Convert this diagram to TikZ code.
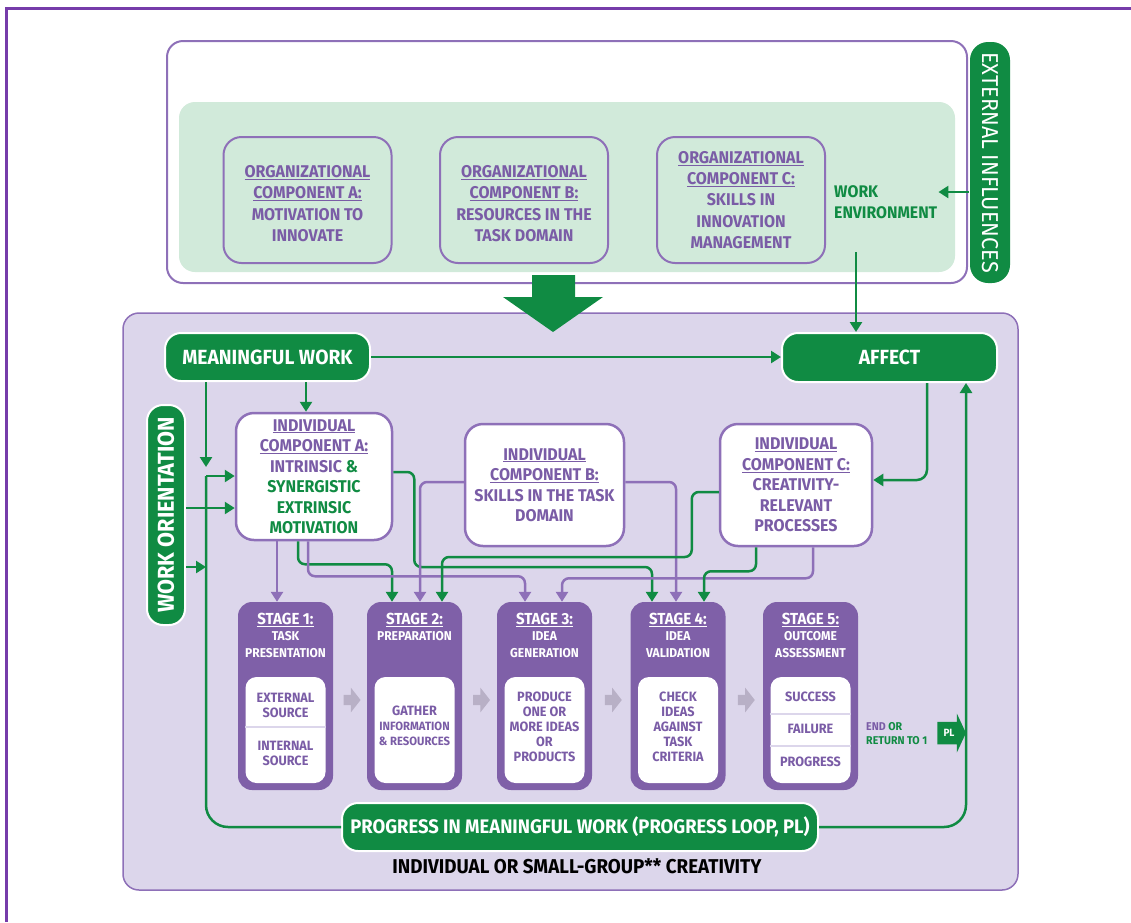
\documentclass[tikz,border=0pt]{standalone}
\usepackage{fontspec}
\setmainfont{Fira Sans}[FakeStretch=0.94]
\usetikzlibrary{positioning,shapes.arrows,calc,arrows.meta}
\definecolor{grn}{RGB}{16,139,67}
\definecolor{pur}{RGB}{127,96,168}
\definecolor{lpur}{RGB}{142,112,184}
\definecolor{txtp}{RGB}{122,92,166}
\definecolor{lav}{RGB}{220,214,235}
\definecolor{mint}{RGB}{209,234,218}
\definecolor{frm}{RGB}{118,60,170}
\definecolor{gry}{RGB}{184,176,198}
\begin{document}
\begin{tikzpicture}[x=1pt,y=-1pt,
  >={Triangle[length=10pt,width=12pt]},
  orgbox/.style={draw=lpur,line width=2pt,rounded corners=18,minimum width=168,minimum height=126,align=center,text=txtp,font=\bfseries\fontsize{17}{21.3}\selectfont},
  indbox/.style={draw=lpur,line width=2.5pt,fill=white,rounded corners=18,align=center,text=txtp,font=\bfseries\fontsize{17}{20.5}\selectfont},
  gbox/.style={draw=white,line width=2pt,fill=grn,rounded corners=16,text=white},
  stage/.style={fill=pur,rounded corners=14,minimum width=95,minimum height=188},
  stitle/.style={text=white,align=center,inner sep=0,font=\bfseries\fontsize{12.8}{16.5}\selectfont},
  inbox/.style={fill=white,rounded corners=11,minimum width=80,minimum height=106},
  intext/.style={text=txtp,align=center,inner sep=0,font=\bfseries\fontsize{13.5}{15}\selectfont},
  divline/.style={draw=lav,line width=1.2pt},
  grayarr/.style={single arrow,fill=gry,inner sep=5,minimum height=17,minimum width=18,single arrow tip angle=104},
  gline/.style={draw=grn,line width=2.5pt},
  pline/.style={draw=lpur,line width=2.5pt},
  garr/.style={gline,->,rounded corners=7},
  parr/.style={pline,->,rounded corners=7}]
\useasboundingbox (0,0) rectangle (1131,922);
\draw[frm,line width=3pt] (6,922) -- (6,8) -- (1131,8);

% work environment
\draw[lpur,line width=2pt,fill=white,rounded corners=16] (167,41) rectangle (967,283);
\fill[mint,rounded corners=16] (179,102) rectangle (955,272);
\node[orgbox] (orgA) at (307.5,200) {\rule{0pt}{19pt}\underline{ORGANIZATIONAL}\\\underline{COMPONENT A:}\\MOTIVATION TO\\INNOVATE};
\node[orgbox] (orgB) at (524,200) {\rule{0pt}{19pt}\underline{ORGANIZATIONAL}\\\underline{COMPONENT B:}\\RESOURCES IN THE\\TASK DOMAIN};
\node[orgbox] (orgC) at (741,200) {\underline{ORGANIZATIONAL}\\\underline{COMPONENT C:}\\SKILLS IN\\INNOVATION\\MANAGEMENT};
\node[anchor=west,align=left,inner sep=1,text=grn,font=\bfseries\fontsize{16.8}{21}\selectfont] (wenv) at (833,202.5) {WORK\\ENVIRONMENT};
\node[gbox,draw=none,rotate=-90,minimum width=241,minimum height=40,rounded corners=18,font=\fontsize{23}{23}\selectfont] (ext) at (990,162.5) {EXTERNAL INFLUENCES};

% individual part
\draw[lpur,line width=1.5pt,fill=lav,rounded corners=16] (123,313) rectangle (1018,890);
\fill[grn] (532,275) -- (575,275) -- (575,297) -- (603,297) -- (553,332) -- (503,297) -- (532,297) -- cycle;

\node[gbox,minimum width=205,minimum height=48,font=\bfseries\fontsize{20.5}{20.5}\selectfont] (mw) at (267.5,357) {MEANINGFUL WORK};
\node[gbox,minimum width=215,minimum height=49,font=\bfseries\fontsize{20.5}{20.5}\selectfont] (affect) at (889.5,357.5) {AFFECT};
\node[gbox,rotate=90,minimum width=220,minimum height=38,font=\bfseries\fontsize{23}{23}\selectfont] (wo) at (166,515) {WORK ORIENTATION};
\node[gbox,minimum width=476,minimum height=48,font=\bfseries\fontsize{19.6}{19.6}\selectfont] (prog) at (580,827) {PROGRESS IN MEANINGFUL WORK (PROGRESS LOOP, PL)};
\node[font=\bfseries\fontsize{20}{20}\selectfont] (cap) at (577,866) {INDIVIDUAL OR SMALL-GROUP** CREATIVITY};

\node[indbox,minimum width=156,minimum height=127] (indA) at (314,476.5) {\underline{INDIVIDUAL}\\\underline{COMPONENT A:}\\INTRINSIC \textcolor{grn}{\&}\\\textcolor{grn}{SYNERGISTIC}\\\textcolor{grn}{EXTRINSIC}\\\textcolor{grn}{MOTIVATION}};
\node[indbox,minimum width=159,minimum height=122] (indB) at (544.5,485) {\underline{INDIVIDUAL}\\\underline{COMPONENT B:}\\SKILLS IN THE TASK\\DOMAIN};
\node[indbox,minimum width=152,minimum height=122] (indC) at (796,485) {\underline{INDIVIDUAL}\\\underline{COMPONENT C:}\\CREATIVITY-\\RELEVANT\\PROCESSES};

% stages
\node[stage] (s1) at (285.5,696) {};
\node[stage] (s2) at (414.5,696) {};
\node[stage] (s3) at (544.5,696) {};
\node[stage] (s4) at (678,696) {};
\node[stage] (s5) at (810.5,696) {};
\node[stitle,below=11pt of s1.north] {{\fontsize{16}{16}\selectfont\underline{STAGE 1:}}\\TASK\\PRESENTATION};
\node[stitle,below=11pt of s2.north] {{\fontsize{16}{16}\selectfont\underline{STAGE 2:}}\\PREPARATION\\\strut};
\node[stitle,below=11pt of s3.north] {{\fontsize{16}{16}\selectfont\underline{STAGE 3:}}\\IDEA\\GENERATION};
\node[stitle,below=11pt of s4.north] {{\fontsize{16}{16}\selectfont\underline{STAGE 4:}}\\IDEA\\VALIDATION};
\node[stitle,below=11pt of s5.north] {{\fontsize{16}{16}\selectfont\underline{STAGE 5:}}\\OUTCOME\\ASSESSMENT};
\foreach \s in {1,...,5}
  \node[inbox,above=7pt of s\s.south] (s\s in) {};
\node[intext] at ([yshift=25]s1in.center) {EXTERNAL\\SOURCE};
\draw[divline] ([yshift=3]s1in.west) -- ([yshift=3]s1in.east);
\node[intext] at ([yshift=-23]s1in.center) {INTERNAL\\SOURCE};
\node[intext] at ([yshift=4]s2in.center) {GATHER\\{\fontsize{12}{14}\selectfont INFORMATION}\\{\fontsize{12}{14}\selectfont\& RESOURCES}};
\node[intext] at ([yshift=3]s3in.center) {PRODUCE\\ONE OR\\MORE IDEAS\\OR\\PRODUCTS};
\node[intext] at ([yshift=3]s4in.center) {CHECK\\IDEAS\\AGAINST\\TASK\\CRITERIA};
\node[intext] at ([yshift=33]s5in.center) {SUCCESS};
\draw[divline] ([yshift=16]s5in.west) -- ([yshift=16]s5in.east);
\node[intext] at ([yshift=1]s5in.center) {FAILURE};
\draw[divline] ([yshift=-16]s5in.west) -- ([yshift=-16]s5in.east);
\node[intext] at ([yshift=-32]s5in.center) {PROGRESS};
\foreach \a/\b in {1/2,2/3,3/4,4/5}
  \node[grayarr] (g\a) at ($(s\a.east)!.5!(s\b.west)+(0,4)$) {};
\node[anchor=west,align=left,inner sep=0,text=grn,font=\bfseries\fontsize{11.3}{14}\selectfont] (endtxt) at (866,734) {\textcolor{txtp}{END} OR\\RETURN TO 1};
\node[single arrow,fill=grn,text=white,font=\bfseries\fontsize{10.5}{10.5}\selectfont,text height=7,text depth=0,inner sep=6,minimum height=28,minimum width=39,single arrow tip angle=130] (pl) at (949,733) {PL};

% green links
\draw[garr] (mw.east) -- (mw.east -| affect.west);
\coordinate (m1) at ([xshift=38.5]mw.south);
\draw[garr] (m1) -- (m1 |- indA.north);
\coordinate (lp) at (206,476);
\coordinate (m2) at ([xshift=-61.5]mw.south);
\draw[garr] (m2) -- ([yshift=9]lp);
\draw[gline,rounded corners=22] (prog.west) -| (lp);
\draw[garr] (lp) -- (lp -| indA.west);
\coordinate (w1) at ([yshift=7]wo.south);
\draw[garr] (w1) -- (w1 -| indA.west);
\coordinate (w2) at ([yshift=-52]wo.south);
\draw[garr] (w2) -- (w2 -| lp);
\draw[garr,rounded corners=22] (prog.east) -| ([xshift=76.5]affect.south);
\draw[garr,rounded corners=10] ([xshift=37.5]affect.south) |- ([yshift=5]indC.east);
\coordinate (e1) at ([yshift=-29.5]ext.south);
\draw[garr] (e1) -- (e1 -| wenv.east);
\coordinate (a1) at ([xshift=-33.5]affect.north);
\draw[garr] ($(a1)+(0,-80)$) -- (a1);

% components to stages
\draw[parr] ([xshift=-37]indA.south) -- ([xshift=-8.5]s1.north);
\draw[garr] ([xshift=-16]indA.south) -- ++(0,23) -| ([xshift=-22.5]s2.north);
\draw[parr] ([xshift=-6]indA.south) -- ++(0,35) -| ([xshift=-19.5]s3.north);
\draw[garr] ([yshift=4.5]indA.east) -- ++(21,0) -- ++(0,95) -| ([xshift=-26]s4.north);
\draw[parr] ([yshift=3]indB.west) -| ([xshift=5.5]s2.north);
\draw[parr] ([yshift=3]indB.east) -| ([xshift=-2]s4.north);
\draw[garr] ([yshift=-7]indC.west) -- ++(-27,0) -- ++(0,65) -| ([xshift=27.5]s2.north);
\draw[parr] ([xshift=17]indC.south) -- ++(0,31) -| ([xshift=17.5]s3.north);
\draw[garr] ([xshift=-40]indC.south) -- ++(0,24) -| ([xshift=26]s4.north);
\end{tikzpicture}
\end{document}
